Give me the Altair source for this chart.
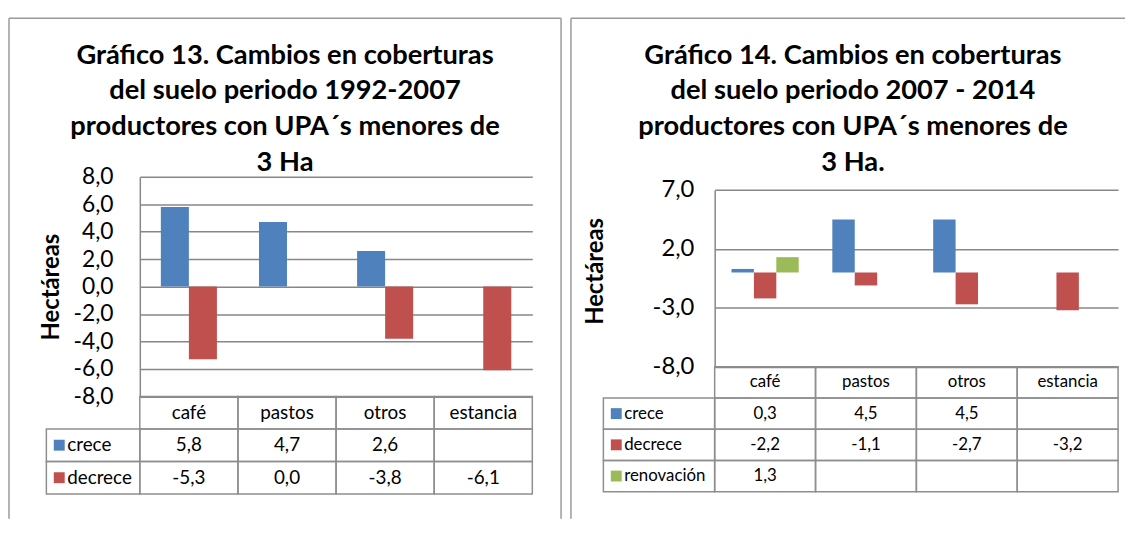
import altair as alt
import pandas as pd

# ---------------- data ----------------
categories = ["café", "pastos", "otros", "estancia"]

g13_title = ["Gráfico 13. Cambios en coberturas", "del suelo  periodo 1992-2007",
             "productores con UPA´s menores de", "3 Ha"]
g13_series = ["crece", "decrece"]
g13_crece = [5.8, 4.7, 2.6, None]
g13_decrece = [-5.3, 0.0, -3.8, -6.1]
g13_ticks = [-8, -6, -4, -2, 0, 2, 4, 6, 8]
g13_domain = [-8, 8]

g14_title = ["Gráfico 14. Cambios  en coberturas", " del suelo  periodo 2007 - 2014",
             "productores con UPA´s menores de", "3 Ha."]
g14_series = ["crece", "decrece", "renovación"]
g14_crece = [0.3, 4.5, 4.5, None]
g14_decrece = [-2.2, -1.1, -2.7, -3.2]
g14_renovacion = [1.3, None, None, None]
g14_ticks = [-8, -3, 2, 7]
g14_domain = [-8, 7]

axis_title = "Hectáreas"
all_series = ["crece", "decrece", "renovación"]
all_colors = ["#4F81BD", "#C0504D", "#9BBB59"]

FONT = "Lato"
GRID = "#878787"
BORDER = "#8e8e8e"
FRAME = "#9a9a9a"
GAP = 1.5  # Excel gap width (in bar widths)

LABEL_EXPR = "(datum.value < 0 ? '-' : '') + replace(format(abs(datum.value), '.1f'), '.', ',')"


def fmt(v):
    return "" if v is None else f"{v:.1f}".replace(".", ",")


def panel(title_lines, series, values, ticks, ydom, L):
    W, H = L["W"], L["H"]
    bars = pd.DataFrame([{"categoria": c, "serie": s, "valor": v}
                         for s, vals in zip(series, values)
                         for c, v in zip(categories, vals) if v is not None])
    HEAD = "_cab"
    rows = [HEAD] + series
    cells = [{"col": c, "fila": HEAD, "texto": c} for c in categories]
    cells += [{"col": c, "fila": s, "texto": fmt(v)}
              for s, vals in zip(series, values) for c, v in zip(categories, vals)]
    cells = pd.DataFrame(cells)
    leg = pd.DataFrame({"col": ["serie"] * len(series), "fila": series})

    n = len(series)
    band = (L["px1"] - L["px0"]) / len(categories)
    bar_w = band / (n + GAP)
    pin = 1 - bar_w / band
    xs = alt.Scale(domain=categories, range=[L["px0"], L["px1"]], paddingInner=0, paddingOuter=0)
    xs_leg = alt.Scale(domain=["serie"], range=[L["lx0"], L["px0"]], paddingInner=0, paddingOuter=0)
    ys_val = alt.Scale(domain=ydom, range=[L["pyb"], L["pyt"]], nice=False)
    ys_tab = alt.Scale(domain=rows, range=[L["pyb"], L["tbot"]], paddingInner=0, paddingOuter=0)
    color = alt.Scale(domain=all_series, range=all_colors)
    one = pd.DataFrame({"k": [0]})
    half_leg = (L["px0"] - L["lx0"]) / 2

    frames = [
        alt.Chart(one).mark_rule(color=FRAME, strokeWidth=1.5).encode(
            x=alt.value(0), y=alt.value(0), y2=alt.value(H)),
        alt.Chart(one).mark_rule(color=FRAME, strokeWidth=1.5).encode(
            x=alt.value(0), x2=alt.value(W), y=alt.value(0)),
    ]
    if L.get("right_frame", True):
        frames.append(alt.Chart(one).mark_rule(color=FRAME, strokeWidth=1.5).encode(
            x=alt.value(W), y=alt.value(0), y2=alt.value(H)))

    axis_kw = dict(values=ticks, labelExpr=LABEL_EXPR, offset=-L["px0"], grid=True,
                   gridColor=GRID, gridWidth=1.5, domainColor=GRID, domainWidth=1.5,
                   ticks=False, labelPadding=L["lpad"], labelFont=FONT,
                   labelFontSize=L["afs"], labelColor="black", title=axis_title,
                   titleFont=FONT, titleFontSize=24, titleFontWeight="bold",
                   titleColor="black", titlePadding=L["tpad"])
    if "titleY" in L:
        axis_kw["titleY"] = L["titleY"]

    # invisible layer that carries the value axis and its grid
    axis_layer = alt.Chart(bars).mark_point(opacity=0).encode(
        x=alt.X("categoria:N", scale=xs, axis=None, sort=categories),
        y=alt.Y("valor:Q", scale=ys_val, axis=alt.Axis(**axis_kw)),
    )

    # one bar layer per series, each shifted inside the category band (Excel clustered bars)
    bar_layers = []
    for i, s in enumerate(series):
        d = (i - (n - 1) / 2) * bar_w
        xsi = alt.Scale(domain=categories, range=[L["px0"] + d, L["px1"] + d],
                        paddingInner=pin, paddingOuter=pin / 2)
        bar_layers.append(
            alt.Chart(bars[bars["serie"] == s]).mark_bar().encode(
                x=alt.X("categoria:N", scale=xsi, axis=None, sort=categories),
                y=alt.Y("valor:Q", stack=False, scale=ys_val, axis=None),
                color=alt.Color("serie:N", scale=color, legend=None),
            ))

    ytab = alt.Y("fila:N", scale=ys_tab, axis=None, sort=rows)
    cell_rect = alt.Chart(cells).mark_rect(fillOpacity=0, stroke=BORDER, strokeWidth=1.5).encode(
        x=alt.X("col:N", scale=xs, axis=None, sort=categories), y=ytab)
    cell_text = alt.Chart(cells).mark_text(font=FONT, fontSize=L["tfs"], color="black").encode(
        x=alt.X("col:N", scale=xs, axis=None, sort=categories), y=ytab, text="texto:N")
    leg_rect = alt.Chart(leg).mark_rect(fillOpacity=0, stroke=BORDER, strokeWidth=1.5).encode(
        x=alt.X("col:N", scale=xs_leg, axis=None), y=ytab)
    leg_sq = alt.Chart(leg).mark_square(size=121, opacity=1, xOffset=13 - half_leg).encode(
        x=alt.X("col:N", scale=xs_leg, axis=None), y=ytab,
        color=alt.Color("fila:N", scale=color, legend=None))
    leg_text = alt.Chart(leg).mark_text(align="left", font=FONT, fontSize=L["tfs"],
                                        color="black", xOffset=21 - half_leg).encode(
        x=alt.X("col:N", scale=xs_leg, axis=None), y=ytab, text="fila:N")

    return alt.layer(
        *frames, axis_layer, *bar_layers, cell_rect, cell_text, leg_rect, leg_sq, leg_text
    ).resolve_scale(x="independent", y="independent").properties(
        width=W, height=H,
        title=alt.TitleParams(text=title_lines, anchor="middle", frame="group", font=FONT,
                              fontSize=27.5, fontWeight="bold", color="black", lineHeight=36,
                              offset=L["toff"], dx=L.get("tdx", 0)),
    )


L13 = dict(W=557, H=505, px0=132, px1=528, pyt=160, pyb=381.6, tbot=480, lx0=37.7,
           afs=23, tfs=19, lpad=27, tpad=10, toff=-160)
L14 = dict(W=559, H=505, px0=145, px1=552, pyt=173.3, pyb=351.7, tbot=477.7, lx0=32.7,
           afs=24, tfs=17, lpad=21, tpad=45, toff=-160, tdx=5, titleY=255, right_frame=False)

left = panel(g13_title, g13_series, [g13_crece, g13_decrece], g13_ticks, g13_domain, L13)
right = panel(g14_title, g14_series, [g14_crece, g14_decrece, g14_renovacion], g14_ticks, g14_domain, L14)

chart = alt.hconcat(left, right, spacing=8).configure_view(strokeWidth=0).properties(
    padding={"left": 0, "top": 7, "right": 0, "bottom": 0}, background="white")

chart.save("out.html", embed_options={"renderer": "svg", "actions": False})
